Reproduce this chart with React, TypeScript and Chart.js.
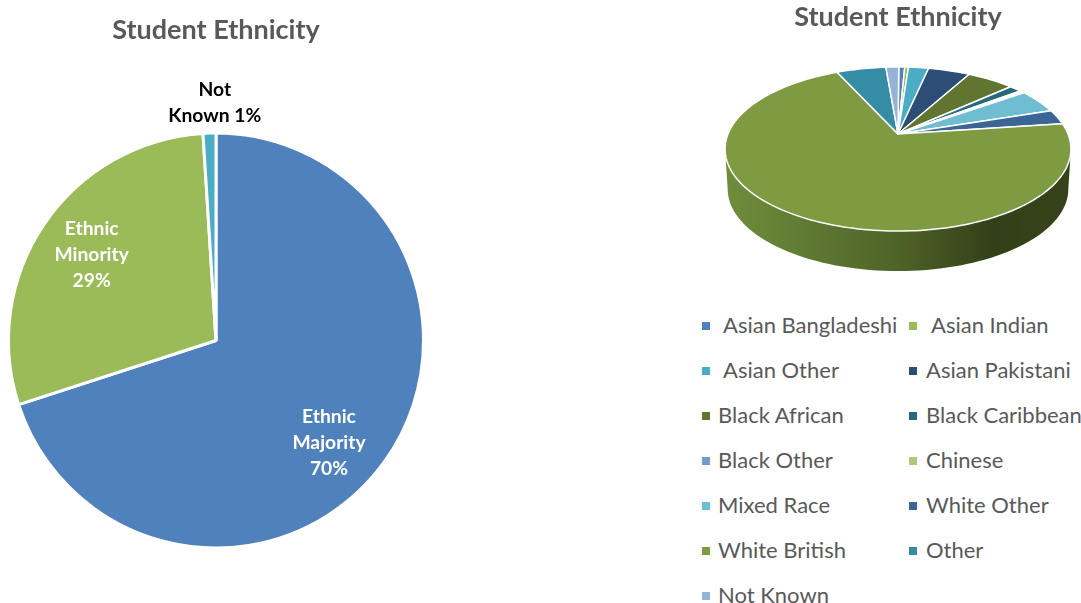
import React, { useEffect, useRef } from "react";
import { Chart, registerables } from "chart.js";

Chart.register(...registerables);

const FONT = "Lato, 'Open Sans', sans-serif";
const TITLE = "Student Ethnicity";

// Left pie data
const groupLabels = ["Ethnic Majority", "Ethnic Minority", "Not Known"];
const groupValues = [70, 29, 1];
const groupColors = ["#4F81BD", "#9BBB59", "#4BACC6"];
const groupTextLines = [["Ethnic", "Majority", "70%"], ["Ethnic", "Minority", "29%"], ["Not", "Known 1%"]];
const groupTextColors = ["#FFFFFF", "#FFFFFF", "#000000"];
const groupTextRadial = [0.735, 0.727, 1.145];
const groupTextTurn = [6.2, 0.3, 1.5];

// Right pie data
const ethnicLabels = [
  "Asian Bangladeshi", "Asian Indian", "Asian Other", "Asian Pakistani", "Black African",
  "Black Caribbean", "Black Other", "Chinese", "Mixed Race", "White Other",
  "White British", "Other", "Not Known",
];
const ethnicValues = [0.67, 0.4, 2.25, 4.67, 5.25, 1.39, 0.25, 0.3, 4.7, 2.9, 70.2, 5.5, 1.43];
const ethnicColors = [
  "#4F81BD", "#9BBB59", "#4BACC6", "#2C4D75", "#5F7530", "#276A7C", "#729ACA",
  "#AFC97A", "#6FBDD1", "#3A6595", "#7E9B41", "#348DA5", "#95B3D7",
];

// Legend layout, [left of swatch, left of text] per entry, and centre y per row
const legendX = [
  [702, 723], [909, 931], [702, 723], [909, 926], [702, 718], [909, 926], [702, 718],
  [909, 926], [702, 718], [909, 926], [702, 718], [909, 926], [702, 718],
];
const legendRowY = [326, 371, 416, 461, 506, 551, 596];

// Perspective of the tilted pie, relative to the arc radius
const TILT_R = 98.85;
const TILT = { a: 170 / TILT_R, b: 79.3 / TILT_R, k: -0.183, depth: 40, bottomScale: 0.985 };

const slicePoint = (el: any, theta: number) => {
  const R = el.outerRadius;
  const u = Math.sin(theta);
  const v = -Math.cos(theta);
  const w = 1 + TILT.k * v;
  return { x: el.x + (TILT.a * R * u) / w, y: el.y + (TILT.b * R * v) / w };
};

const tiltedPie = {
  id: "tiltedPie",
  beforeDatasetsDraw(chart: any) {
    const ctx = chart.ctx;
    const arcs = chart.getDatasetMeta(0).data;
    const from = Math.acos(TILT.k);
    const to = 2 * Math.PI - from;
    const first = arcs[0];
    const leftEnd = slicePoint(first, to).x;
    const rightEnd = slicePoint(first, from).x;

    // Side wall
    arcs.forEach((el: any) => {
      const s = Math.max(el.startAngle + Math.PI / 2, from);
      const e = Math.min(el.endAngle + Math.PI / 2, to);
      if (e <= s) return;
      const grad = ctx.createLinearGradient(leftEnd, 0, rightEnd, 0);
      grad.addColorStop(0, "#6F8E3C");
      grad.addColorStop(0.5, "#4E6328");
      grad.addColorStop(0.78, "#333F18");
      grad.addColorStop(1, "#36431A");
      const steps = 80;
      ctx.beginPath();
      for (let i = 0; i <= steps; i++) {
        const p = slicePoint(el, s + ((e - s) * i) / steps);
        i === 0 ? ctx.moveTo(p.x, p.y) : ctx.lineTo(p.x, p.y);
      }
      for (let i = steps; i >= 0; i--) {
        const p = slicePoint(el, s + ((e - s) * i) / steps);
        ctx.lineTo(el.x + (p.x - el.x) * TILT.bottomScale, p.y + TILT.depth);
      }
      ctx.closePath();
      ctx.fillStyle = grad;
      ctx.fill();
    });

    // Top face
    arcs.forEach((el: any) => {
      const s = el.startAngle + Math.PI / 2;
      const e = el.endAngle + Math.PI / 2;
      const steps = Math.max(2, Math.ceil((e - s) * 40));
      ctx.beginPath();
      ctx.moveTo(el.x, el.y);
      for (let i = 0; i <= steps; i++) {
        const p = slicePoint(el, s + ((e - s) * i) / steps);
        ctx.lineTo(p.x, p.y);
      }
      ctx.closePath();
      ctx.fillStyle = el.options.backgroundColor;
      ctx.fill();
      ctx.strokeStyle = "#FFFFFF";
      ctx.lineWidth = el.options.borderWidth;
      ctx.lineJoin = "round";
      ctx.stroke();
    });
    return false;
  },
};

const pieLabels = {
  id: "pieLabels",
  afterDatasetsDraw(chart: any) {
    const ctx = chart.ctx;
    chart.getDatasetMeta(0).data.forEach((el: any, i: number) => {
      const mid = (el.startAngle + el.endAngle) / 2 + (groupTextTurn[i] * Math.PI) / 180;
      const r = el.outerRadius * groupTextRadial[i];
      const cx = el.x + Math.cos(mid) * r;
      const cy = el.y + Math.sin(mid) * r;
      const lines = groupTextLines[i];
      ctx.save();
      ctx.font = `bold 19.3px ${FONT}`;
      ctx.fillStyle = groupTextColors[i];
      ctx.textAlign = "center";
      ctx.textBaseline = "middle";
      lines.forEach((t, j) => ctx.fillText(t, cx, cy + (j - (lines.length - 1) / 2) * 26));
      ctx.restore();
    });
  },
};

const baseOptions = (padding: any, titlePadding: any) => ({
  animation: false as const,
  responsive: false,
  events: [] as any[],
  layout: { padding },
  plugins: {
    legend: { display: false },
    tooltip: { enabled: false },
    title: {
      display: true,
      text: TITLE,
      color: "#595959",
      font: { family: FONT, size: 27, weight: "bold" as const, lineHeight: 1.2 },
      padding: titlePadding,
    },
  },
});

export default function App() {
  const leftRef = useRef<HTMLCanvasElement>(null);
  const rightRef = useRef<HTMLCanvasElement>(null);

  useEffect(() => {
    const left = new Chart(leftRef.current!, {
      type: "pie",
      data: {
        labels: groupLabels,
        datasets: [{ data: groupValues, backgroundColor: groupColors, borderColor: "#FFFFFF", borderWidth: 3 }],
      },
      options: baseOptions({ bottom: 2.5 }, { top: 14, bottom: 85.1 }),
      plugins: [pieLabels],
    } as any);
    const right = new Chart(rightRef.current!, {
      type: "pie",
      data: {
        labels: ethnicLabels,
        datasets: [{ data: ethnicValues, backgroundColor: ethnicColors, borderColor: "#FFFFFF", borderWidth: 1.5 }],
      },
      options: { ...baseOptions({ bottom: 56.4 }, { top: 1, bottom: 1 }), rotation: 0.3 },
      plugins: [tiltedPie],
    } as any);
    return () => {
      left.destroy();
      right.destroy();
    };
  }, []);

  return (
    <div style={{ position: "absolute", left: 0, top: 0, width: 1081, height: 603, overflow: "hidden", background: "#fff" }}>
      <canvas ref={leftRef} width={432} height={552} style={{ position: "absolute", left: 0, top: 0 }} />
      <canvas ref={rightRef} width={366} height={290} style={{ position: "absolute", left: 715, top: 0 }} />
      {ethnicLabels.map((label, i) => {
        const y = legendRowY[Math.floor(i / 2)];
        return (
          <React.Fragment key={label}>
            <span style={{ position: "absolute", left: legendX[i][0], top: y - 4, width: 8, height: 8, background: ethnicColors[i] }} />
            <span
              style={{
                position: "absolute",
                left: legendX[i][1],
                top: y - 16,
                height: 30,
                font: `22px/30px ${FONT}`,
                color: "#595959",
                whiteSpace: "nowrap",
              }}
            >
              {label}
            </span>
          </React.Fragment>
        );
      })}
    </div>
  );
}
